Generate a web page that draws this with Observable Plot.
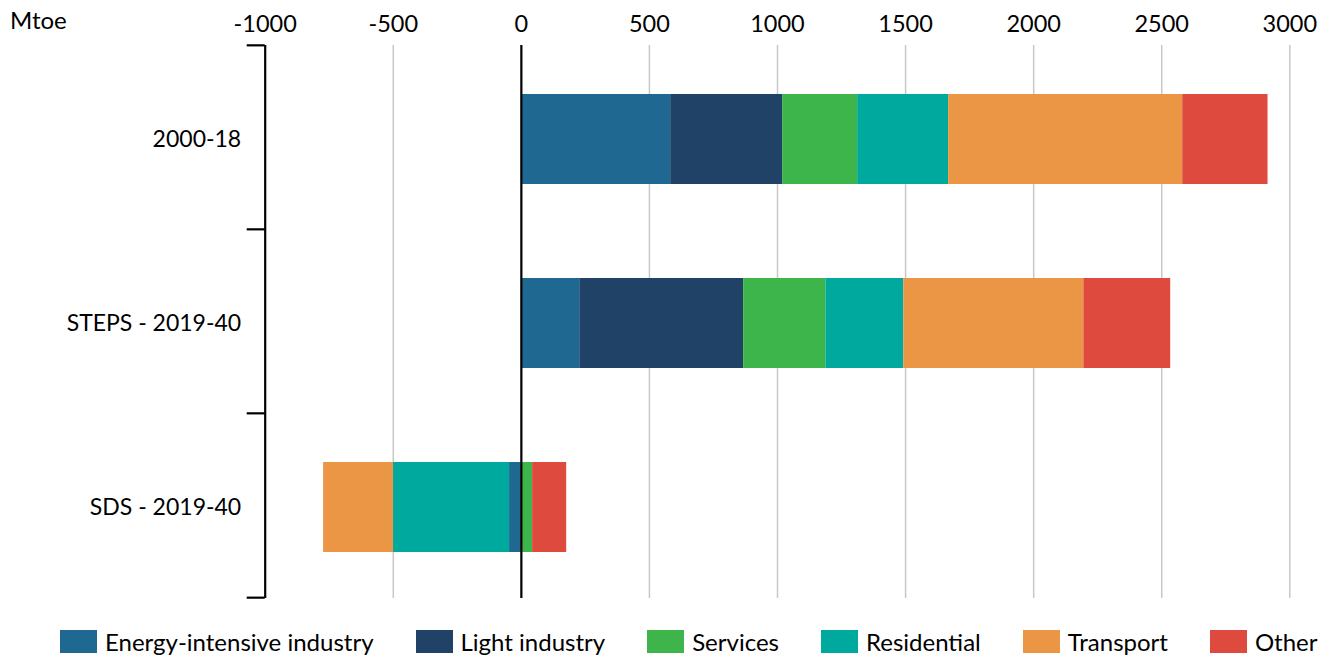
<!DOCTYPE html>
<html>
<head>
<meta charset="utf-8">
<script src="https://cdn.jsdelivr.net/npm/d3@7"></script>
<script src="https://cdn.jsdelivr.net/npm/@observablehq/plot@0.6"></script>
<style>
  html, body { margin: 0; padding: 0; background: #fff; }
  body { width: 1330px; height: 657px; position: relative; overflow: hidden; font-family: Lato, "Open Sans", sans-serif; color: #000; }
  #unit { position: absolute; left: 10px; top: 5px; font-size: 24px; }
  #legend { position: absolute; left: 60px; top: 627px; display: flex; align-items: center; font-size: 24px; white-space: nowrap; }
  .item { display: flex; align-items: center; margin-right: 42px; }
  .sw { width: 37px; height: 23px; margin-right: 8px; }
</style>
</head>
<body>
<div id="chart"></div>
<div id="unit">Mtoe</div>
<div id="legend"></div>
<script>
const categories = ["2000-18", "STEPS - 2019-40", "SDS - 2019-40"];
const sectors = ["Energy-intensive industry", "Light industry", "Services", "Residential", "Transport", "Other"];
const sectorColors = ["#1f6891", "#1f4266", "#3db54b", "#00a99d", "#eb9645", "#df4a3e"];
const values2000_18 = [583, 437, 293, 355, 914, 333];
const valuesSTEPS = [228, 640, 321, 304, 703, 339];
const valuesSDS = [-46, 0, 44, -453, -273, 133];
const xTicks = [-1000, -500, 0, 500, 1000, 1500, 2000, 2500, 3000];
const gridTicks = [-500, 500, 1000, 1500, 2000, 2500, 3000];

const series = [values2000_18, valuesSTEPS, valuesSDS];
const data = [];
categories.forEach((c, i) => sectors.forEach((s, j) => data.push({category: c, sector: s, value: series[i][j]})));

const W = 1330, H = 610, mTop = 45, mBottom = 12, mLeft = 264.7, mRight = 40.7;
const step = (H - mTop - mBottom) / categories.length;
const x0 = xTicks[0];
const bracketLen = 18 * (xTicks[xTicks.length - 1] - x0) / (W - mLeft - mRight);

const chart = Plot.plot({
  width: W,
  height: H,
  marginTop: mTop,
  marginBottom: mBottom,
  marginLeft: mLeft,
  marginRight: mRight,
  style: {fontFamily: "Lato, 'Open Sans', sans-serif", color: "#000", background: "#fff"},
  x: {domain: [xTicks[0], xTicks[xTicks.length - 1]]},
  y: {domain: categories, paddingInner: 0.51, paddingOuter: 0.255},
  color: {domain: sectors, range: sectorColors},
  marks: [
    Plot.ruleX(gridTicks, {stroke: "#c8c8c8", strokeWidth: 1.5}),
    Plot.barX(data, {y: "category", x: "value", fill: "sector", dy: 2}),
    Plot.ruleX([0], {stroke: "#000", strokeWidth: 2.2}),
    Plot.ruleX([x0], {stroke: "#000", strokeWidth: 2.2}),
    Plot.ruleY(categories, {y: d => d, x1: x0 - bracketLen, x2: x0, dy: -step / 2, stroke: "#000", strokeWidth: 2.2}),
    Plot.ruleY(categories.slice(-1), {y: d => d, x1: x0 - bracketLen, x2: x0, dy: step / 2, stroke: "#000", strokeWidth: 2.2}),
    Plot.axisX({anchor: "top", ticks: xTicks, tickSize: 0, tickPadding: 14, tickFormat: d => String(d), fontSize: 23.5, label: null}),
    Plot.axisY({anchor: "left", tickSize: 0, tickPadding: 24, fontSize: 23, label: null, dy: 2})
  ]
});
document.getElementById("chart").appendChild(chart);

const legend = document.getElementById("legend");
sectors.forEach((s, i) => {
  const item = document.createElement("div");
  item.className = "item";
  const sw = document.createElement("div");
  sw.className = "sw";
  sw.style.background = sectorColors[i];
  const t = document.createElement("span");
  t.textContent = s;
  item.appendChild(sw);
  item.appendChild(t);
  legend.appendChild(item);
});
</script>
</body>
</html>
